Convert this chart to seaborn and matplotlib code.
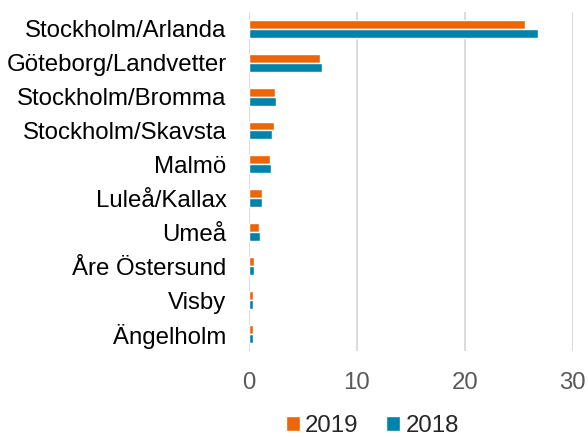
import matplotlib
matplotlib.use("Agg")
import matplotlib.pyplot as plt
import seaborn as sns
import pandas as pd
from matplotlib.patches import Patch

airports = ["Stockholm/Arlanda", "Göteborg/Landvetter", "Stockholm/Bromma",
            "Stockholm/Skavsta", "Malmö", "Luleå/Kallax", "Umeå",
            "Åre Östersund", "Visby", "Ängelholm"]
values_2019 = [25.6, 6.6, 2.4, 2.3, 2.0, 1.2, 0.95, 0.46, 0.43, 0.37]
values_2018 = [26.8, 6.8, 2.5, 2.2, 2.1, 1.2, 1.0, 0.52, 0.43, 0.37]
years = ["2019", "2018"]
colors = {"2019": "#EC6608", "2018": "#0083AB"}

df = pd.DataFrame({
    "airport": airports * 2,
    "value": values_2019 + values_2018,
    "year": ["2019"] * len(airports) + ["2018"] * len(airports),
})

sns.set_theme(style="white")
plt.rcParams["font.family"] = ["Liberation Sans", "DejaVu Sans"]

fig = plt.figure(figsize=(5.88, 4.37), dpi=100)
ax = fig.add_axes([0.423, 0.197, 0.551, 0.776])

sns.barplot(data=df, y="airport", x="value", hue="year", hue_order=years,
            order=airports, palette=colors, orient="h", width=0.53,
            saturation=1, legend=False, ax=ax)

ax.set_xlim(0, 30)
ax.set_xticks([0, 10, 20, 30])
ax.set_xlabel("")
ax.set_ylabel("")
ax.grid(axis="x", color="#D9D9D9", linewidth=1.3)
ax.set_axisbelow(True)
for s in ax.spines.values():
    s.set_visible(False)
ax.tick_params(axis="both", length=0)
ax.tick_params(axis="y", labelsize=17.3, colors="#000000", pad=16)
ax.tick_params(axis="x", labelsize=17.3, labelcolor="#595959", pad=15)

handles = [Patch(facecolor=colors[y], label=y) for y in years]
fig.legend(handles=handles, loc="center", bbox_to_anchor=(0.633, 0.026),
           ncol=2, frameon=False, fontsize=17.3, handlelength=0.6,
           handleheight=0.6, handletextpad=0.2, columnspacing=1.15)

fig.savefig("out.png", dpi=100)
